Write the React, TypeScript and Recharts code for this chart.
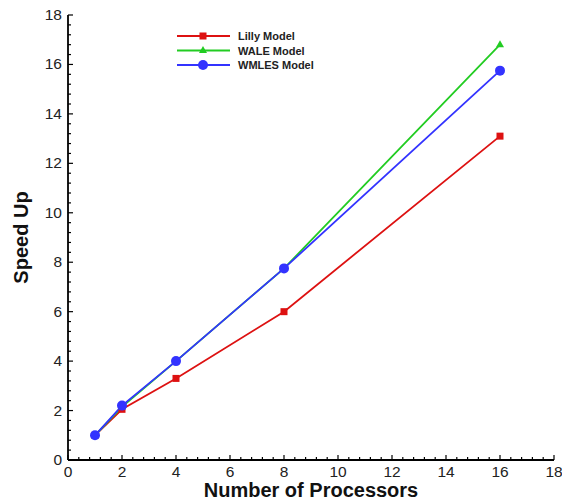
import React from 'react';
import { LineChart, Line, XAxis, YAxis, Legend } from 'recharts';

const processors = [1, 2, 4, 8, 16];
const lillySpeedUp = [1.0, 2.05, 3.3, 6.0, 13.1];
const waleSpeedUp = [1.0, 2.15, 4.0, 7.75, 16.8];
const wmlesSpeedUp = [1.0, 2.2, 4.0, 7.75, 15.75];
const majorTickLabels = [0, 2, 4, 6, 8, 10, 12, 14, 16, 18];
const tickValues = Array.from({ length: 46 }, (_, i) => Math.round(i * 4) / 10);

const data = processors.map((p, i) => ({
  x: p,
  lilly: lillySpeedUp[i],
  wale: waleSpeedUp[i],
  wmles: wmlesSpeedUp[i],
}));

const RED = '#dd1111';
const GREEN = '#22cc22';
const BLUE = '#3333ff';
const FONT = 'Arial, "Liberation Sans", sans-serif';

const isMajor = (v: number) => majorTickLabels.some((m) => Math.abs(m - v) < 1e-6);

const XTick = (props: any) => {
  const { x, y, payload } = props;
  const v = payload.value;
  const major = isMajor(v);
  return (
    <g>
      <line x1={x} x2={x} y1={y} y2={y - (major ? 5 : 3)} stroke="#000" strokeWidth={1.2} />
      {major && (
        <text x={x} y={y + 17} textAnchor="middle" fontSize={15.5} fill="#222" fontFamily={FONT}>
          {v}
        </text>
      )}
    </g>
  );
};

const YTick = (props: any) => {
  const { x, y, payload } = props;
  const v = payload.value;
  const major = isMajor(v);
  return (
    <g>
      <line x1={x} x2={x + (major ? 5 : 3)} y1={y} y2={y} stroke="#000" strokeWidth={1.2} />
      {major && (
        <text x={x - 6} y={y + 5} textAnchor="end" fontSize={15.5} fill="#222" fontFamily={FONT}>
          {v}
        </text>
      )}
    </g>
  );
};

const SquareDot = (props: any) => {
  const { cx, cy } = props;
  return <rect key={`s${cx}`} x={cx - 3.5} y={cy - 3.5} width={7} height={7} fill={RED} />;
};
const TriDot = (props: any) => {
  const { cx, cy } = props;
  return <polygon key={`t${cx}`} points={`${cx},${cy - 4.5} ${cx - 4},${cy + 2.5} ${cx + 4},${cy + 2.5}`} fill={GREEN} />;
};
const CircleDot = (props: any) => {
  const { cx, cy } = props;
  return <circle key={`c${cx}`} cx={cx} cy={cy} r={5} fill={BLUE} />;
};

const legendItems = [
  { name: 'Lilly Model', color: RED, shape: 'square' },
  { name: 'WALE Model', color: GREEN, shape: 'triangle' },
  { name: 'WMLES Model', color: BLUE, shape: 'circle' },
];

const LegendContent = () => (
  <svg width={170} height={48}>
    {legendItems.map((it, i) => {
      const y = 6 + i * 14.5;
      const cx = 33;
      return (
        <g key={it.name}>
          <line x1={7} x2={60} y1={y} y2={y} stroke={it.color} strokeWidth={1.8} />
          {it.shape === 'square' && <rect x={cx - 3.5} y={y - 3.5} width={7} height={7} fill={it.color} />}
          {it.shape === 'triangle' && (
            <polygon points={`${cx},${y - 4.5} ${cx - 4},${y + 2.5} ${cx + 4},${y + 2.5}`} fill={it.color} />
          )}
          {it.shape === 'circle' && <circle cx={cx} cy={y} r={5} fill={it.color} />}
          <text x={68} y={y + 4} fontSize={11} fontWeight="bold" fill="#222" fontFamily={FONT}>
            {it.name}
          </text>
        </g>
      );
    })}
  </svg>
);

export default function App() {
  return (
    <div style={{ position: 'relative', width: 562, height: 502, background: '#fff' }}>
      <style>{`body{margin:0;}`}</style>
      <LineChart width={562} height={502} data={data} margin={{ top: 15, right: 8, bottom: 0, left: 0 }}>
        <XAxis
          dataKey="x"
          type="number"
          domain={[0, 18]}
          ticks={tickValues}
          interval={0}
          tickSize={0}
          tickMargin={0}
          tickLine={false}
          tick={<XTick />}
          height={42}
          axisLine={{ stroke: '#000', strokeWidth: 1.8 }}
          label={{
            value: 'Number of Processors',
            position: 'center',
            dy: 9,
            fontSize: 20,
            fontWeight: 'bold',
            fill: '#111',
            fontFamily: FONT,
          }}
        />
        <YAxis
          type="number"
          domain={[0, 18]}
          ticks={tickValues}
          interval={0}
          tickSize={0}
          tickMargin={0}
          tickLine={false}
          tick={<YTick />}
          width={68}
          axisLine={{ stroke: '#000', strokeWidth: 1.8 }}
          label={{
            value: 'Speed Up',
            position: 'center',
            angle: -90,
            dx: -13,
            fontSize: 20,
            fontWeight: 'bold',
            fill: '#111',
            fontFamily: FONT,
          }}
        />
        <Legend
          layout="vertical"
          align="center"
          verticalAlign="middle"
          content={<LegendContent />}
          wrapperStyle={{ top: 30, left: 170, width: 170, height: 48 }}
        />
        <Line dataKey="lilly" name="Lilly Model" stroke={RED} strokeWidth={1.8} dot={<SquareDot />} isAnimationActive={false} />
        <Line dataKey="wale" name="WALE Model" stroke={GREEN} strokeWidth={1.8} dot={<TriDot />} isAnimationActive={false} />
        <Line dataKey="wmles" name="WMLES Model" stroke={BLUE} strokeWidth={1.8} dot={<CircleDot />} isAnimationActive={false} />
      </LineChart>
    </div>
  );
}
